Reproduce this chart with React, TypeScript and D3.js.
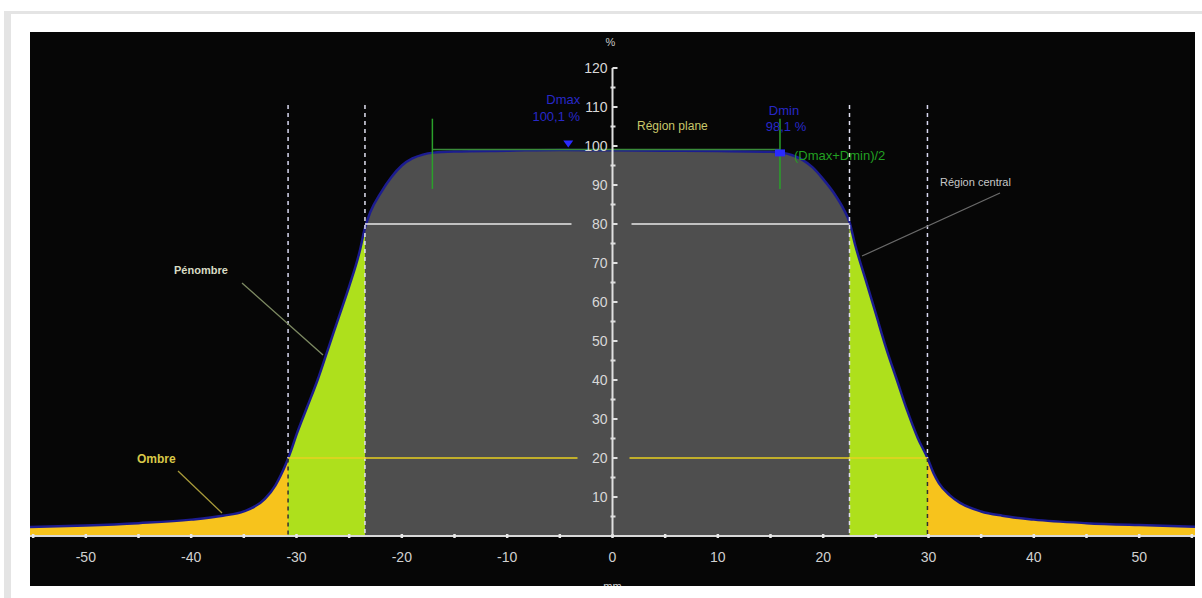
import React from "react";
import * as d3 from "d3";

// Profile data (position in mm, relative dose in %)
const positions = [-55.3, -50, -45, -40, -37, -35, -33, -32, -31, -30.5, -30, -29, -28, -27, -26, -25, -24, -23.5, -23, -22, -21, -20, -19, -18, -17, -15, -10, -5, 0, 5, 10, 15, 16, 17, 18, 19, 20, 21, 22, 22.5, 23, 24, 25, 26, 27, 28, 29, 29.9, 30.5, 31, 32, 33, 35, 37, 40, 45, 50, 55.3];
const doses = [2.3, 2.7, 3.3, 4.2, 5.2, 6.3, 9.5, 13, 18.5, 22, 26, 33, 40, 48, 56, 64, 73, 79, 83, 88, 92, 95, 96.8, 97.8, 98.3, 98.6, 98.8, 99, 98.9, 98.8, 98.7, 98.5, 98.3, 97.7, 96.5, 94.5, 91.5, 88, 83.5, 80.5, 75, 66, 57, 48, 40, 32, 25, 20, 16, 13.5, 10.5, 8.5, 6.3, 5.2, 4.2, 3.3, 2.8, 2.4];

const xTickLabels = [-50, -40, -30, -20, -10, 0, 10, 20, 30, 40, 50];
const xMinorTicks = [-55, -45, -35, -25, -15, -5, 5, 15, 25, 35, 45, 55];
const yTickLabels = [10, 20, 30, 40, 50, 60, 70, 80, 90, 100, 110, 120];
const yMinorTicks = [5, 15, 25, 35, 45, 55, 65, 75, 85, 95, 105, 115];

// Region limits (mm) : 20% and 80% crossings
const penumbraOuter = [-30.8, 29.9];
const penumbraInner = [-23.5, 22.5];
const flatRegion = [-17.1, 15.9];
const level80 = 80;
const level20 = 20;
const dmax = { x: -4.2, v: 100.1, label: "100,1 %" };
const dmin = { x: 15.9, v: 98.1, label: "98,1 %" };
const dmid = 99.1;

export default function App() {
  const W = 1202, H = 598;
  const left = 30, right = 1195, top = 32, bottom = 586;
  const x = d3.scaleLinear().domain([-55.3, 55.3]).range([left, right]);
  const y = d3.scaleLinear().domain([0, 120]).range([536, 68]);
  const data = positions.map((p, i) => [p, doses[i]] as [number, number]);
  const area = d3.area<[number, number]>().x(d => x(d[0])).y0(y(0)).y1(d => y(d[1])).curve(d3.curveMonotoneX);
  const line = d3.line<[number, number]>().x(d => x(d[0])).y(d => y(d[1])).curve(d3.curveMonotoneX);
  const areaD = area(data) || "";
  const lineD = line(data) || "";
  const x0 = x(0);
  const yAxis0 = y(0);
  const interp = (p: number) => {
    for (let i = 0; i < positions.length - 1; i++) {
      if (p >= positions[i] && p <= positions[i + 1]) {
        const t = (p - positions[i]) / (positions[i + 1] - positions[i]);
        return doses[i] + t * (doses[i + 1] - doses[i]);
      }
    }
    return 0;
  };
  const font = "'Liberation Sans', Arial, sans-serif";
  const dashTop = 105;

  return (
    <div style={{ position: "absolute", left: 0, top: 0 }}>
      <svg width={W} height={H} style={{ display: "block" }}>
        <rect x={0} y={0} width={W} height={H} fill="#ffffff" />
        <rect x={4} y={11} width={W} height={H} fill="#e4e4e4" />
        <rect x={11} y={14} width={W} height={H} fill="#ffffff" />
        <defs>
          <clipPath id="clipGreen">
            <rect x={x(penumbraOuter[0])} y={0} width={x(penumbraOuter[1]) - x(penumbraOuter[0])} height={H} />
          </clipPath>
          <clipPath id="clipGray">
            <rect x={x(penumbraInner[0])} y={0} width={x(penumbraInner[1]) - x(penumbraInner[0])} height={H} />
          </clipPath>
          <clipPath id="clipPanel">
            <rect x={left} y={top} width={right - left} height={bottom - top} />
          </clipPath>
        </defs>
        <rect x={left} y={top} width={right - left} height={bottom - top} fill="#060606" />
        <g clipPath="url(#clipPanel)">
          <path d={areaD} fill="#f7c31c" />
          <path d={areaD} fill="#aee01c" clipPath="url(#clipGreen)" />
          <path d={areaD} fill="#4e4e4e" clipPath="url(#clipGray)" />
          <path d={lineD} fill="none" stroke="#1c1c90" strokeWidth={2.5} />

          {/* vertical dashed region lines */}
          {penumbraOuter.map((p, i) => (
            <g key={"o" + i}>
              <line x1={x(p)} x2={x(p)} y1={dashTop} y2={y(interp(p))} stroke="#d8d8f0" strokeWidth={1.5} strokeDasharray="4,4" />
              <line x1={x(p)} x2={x(p)} y1={y(interp(p))} y2={yAxis0} stroke="#303030" strokeWidth={1.5} strokeDasharray="4,4" />
            </g>
          ))}
          {penumbraInner.map((p, i) => (
            <line key={"i" + i} x1={x(p)} x2={x(p)} y1={dashTop} y2={yAxis0} stroke="#e0e0f0" strokeWidth={1.5} strokeDasharray="4,4" />
          ))}

          {/* 80% and 20% level lines */}
          <line x1={x(penumbraInner[0])} x2={x0 - 41} y1={y(level80)} y2={y(level80)} stroke="#e8e8e8" strokeWidth={1.5} />
          <line x1={x0 + 19} x2={x(penumbraInner[1])} y1={y(level80)} y2={y(level80)} stroke="#e8e8e8" strokeWidth={1.5} />
          <line x1={x(penumbraOuter[0])} x2={x0 - 35} y1={y(level20)} y2={y(level20)} stroke="#e8d020" strokeWidth={1.5} />
          <line x1={x0 + 17} x2={x(penumbraOuter[1])} y1={y(level20)} y2={y(level20)} stroke="#e8d020" strokeWidth={1.5} />

          {/* flat region markers */}
          <line x1={x(flatRegion[0])} x2={x(flatRegion[1])} y1={y(dmid)} y2={y(dmid)} stroke="#3a8a3a" strokeWidth={1.5} />
          {flatRegion.map((p, i) => (
            <line key={"f" + i} x1={x(p)} x2={x(p)} y1={y(107)} y2={y(89)} stroke="#2aa02a" strokeWidth={1.5} />
          ))}

          {/* Dmax / Dmin markers */}
          <path d={`M${x(dmax.x) - 5},${y(dmax.v) - 5} L${x(dmax.x) + 5},${y(dmax.v) - 5} L${x(dmax.x)},${y(dmax.v) + 2} Z`} fill="#2a2aff" />
          <rect x={x(dmin.x) - 5} y={y(dmin.v) - 4} width={10} height={7} fill="#2a2aff" />
          <text x={x(dmax.x) - 5} y={104} textAnchor="middle" fill="#2828c8" fontSize={13} fontFamily={font}>Dmax</text>
          <text x={x(dmax.x) - 12} y={121} textAnchor="middle" fill="#2828c8" fontSize={13} fontFamily={font}>{dmax.label}</text>
          <text x={x(dmin.x) + 4} y={115} textAnchor="middle" fill="#2828c8" fontSize={13} fontFamily={font}>Dmin</text>
          <text x={x(dmin.x) + 6} y={131} textAnchor="middle" fill="#2828c8" fontSize={13} fontFamily={font}>{dmin.label}</text>
          <text x={x(dmin.x) + 14} y={160} fill="#22a022" fontSize={13} fontFamily={font}>(Dmax+Dmin)/2</text>
          <text x={637} y={130} fill="#c8c86a" fontSize={12} fontFamily={font}>Région plane</text>

          {/* annotations */}
          <text x={940} y={186} fill="#c8c8c8" fontSize={11} fontFamily={font}>Région central</text>
          <line x1={1000} y1={193} x2={862} y2={256} stroke="#6a6a6a" strokeWidth={1.3} />
          <text x={174} y={274} fill="#d8dcc4" fontSize={11} fontWeight="bold" fontFamily={font}>Pénombre</text>
          <line x1={242} y1={283} x2={323} y2={355} stroke="#7d8a62" strokeWidth={1.3} />
          <text x={137} y={463} fill="#d8c848" fontSize={12} fontWeight="bold" fontFamily={font}>Ombre</text>
          <line x1={178} y1={471} x2={222} y2={513} stroke="#a89a3a" strokeWidth={1.3} />

          {/* x axis */}
          <line x1={left} x2={right} y1={yAxis0} y2={yAxis0} stroke="#d8d8d8" strokeWidth={2} />
          {xTickLabels.concat(xMinorTicks).map((t, i) => (
            <line key={"xt" + i} x1={x(t)} x2={x(t)} y1={yAxis0 - 2} y2={yAxis0 + 2} stroke="#e8e8e8" strokeWidth={2.5} />
          ))}
          {xTickLabels.map((t) => (
            <text key={"xl" + t} x={x(t)} y={562} textAnchor="middle" fill="#d0d0d0" fontSize={14} fontFamily={font}>{t}</text>
          ))}
          <text x={x0} y={590} textAnchor="middle" fill="#d0d0d0" fontSize={11} fontFamily={font}>mm</text>

          {/* y axis */}
          <line x1={x0} x2={x0} y1={y(120)} y2={yAxis0} stroke="#e0e0e0" strokeWidth={2} />
          {yTickLabels.map((t) => (
            <g key={"yl" + t}>
              <line x1={x0} x2={x0 + 5} y1={y(t)} y2={y(t)} stroke="#e0e0e0" strokeWidth={2} />
              <text x={x0 - 5} y={y(t) + 5} textAnchor="end" fill="#d8d8d8" fontSize={14} fontFamily={font}>{t}</text>
            </g>
          ))}
          {yMinorTicks.map((t) => (
            <line key={"ym" + t} x1={x0 - 2} x2={x0 + 3} y1={y(t)} y2={y(t)} stroke="#e0e0e0" strokeWidth={2} />
          ))}
          <text x={x0 - 2} y={46} textAnchor="middle" fill="#c8c8c8" fontSize={11} fontFamily={font}>%</text>
        </g>
      </svg>
    </div>
  );
}
